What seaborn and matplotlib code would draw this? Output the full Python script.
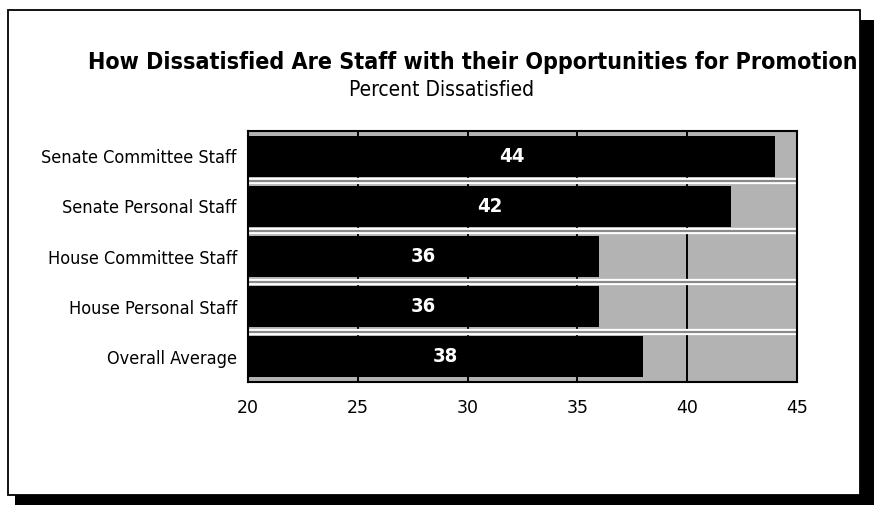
import matplotlib
matplotlib.use("Agg")
import matplotlib.pyplot as plt
from matplotlib.patches import Rectangle
import seaborn as sns
import pandas as pd

categories = ["Senate Committee Staff", "Senate Personal Staff", "House Committee Staff",
              "House Personal Staff", "Overall Average"]
values = [44, 42, 36, 36, 38]
xticks = [20, 25, 30, 35, 40, 45]
title = "How Dissatisfied Are Staff with their Opportunities for Promotion"
subtitle = "Percent Dissatisfied"

sns.set_theme(style="white")
plt.rcParams["font.family"] = ["DejaVu Sans"]
plt.rcParams["font.stretch"] = "condensed"
plt.rcParams["text.color"] = "black"

W, H = 874, 505
fig = plt.figure(figsize=(W / 100, H / 100), dpi=100)
fig.patch.set_facecolor("white")

def fx(px):
    return px / W

def fy(py):
    return 1 - py / H

# shadow and frame
fig.patches.append(Rectangle((fx(860), fy(505)), fx(14), 485 / H, transform=fig.transFigure,
                             facecolor="black", edgecolor="none", zorder=-10))
fig.patches.append(Rectangle((fx(15), fy(505)), fx(859), 10 / H, transform=fig.transFigure,
                             facecolor="black", edgecolor="none", zorder=-10))
fig.patches.append(Rectangle((fx(8), fy(495)), fx(852), 485 / H, transform=fig.transFigure,
                             facecolor="white", edgecolor="black", linewidth=1.3, zorder=-9))

ax = fig.add_axes([fx(248), fy(382), fx(797 - 248), (382 - 131) / H])
ax.set_zorder(1)
df = pd.DataFrame({"category": categories, "value": values})
sns.barplot(data=df, x="value", y="category", orient="h", color="black",
            saturation=1, width=0.82, ax=ax, zorder=3, edgecolor="none", linewidth=0)
ax.set_facecolor("#b3b3b3")
ax.set_xlim(20, 45)
ax.set_ylim(len(categories) - 0.5, -0.5)
ax.set_xticks(xticks)
ax.set_xticklabels([str(t) for t in xticks], fontsize=12.5, fontstretch="normal")
ax.tick_params(axis="x", length=0, pad=12, colors="black")
ax.tick_params(axis="y", length=0, pad=8, colors="black", labelsize=13)
ax.set_xlabel("")
ax.set_ylabel("")
for t in xticks[1:-1]:
    ax.axvline(t, color="black", lw=1.4, zorder=1)
for i in range(len(categories) - 1):
    ax.axhline(i + 0.5, color="white", lw=4.5, zorder=2)
    ax.axhline(i + 0.5, color="#8a8a8a", lw=1.6, zorder=2.5)
for s in ax.spines.values():
    s.set_color("black")
    s.set_linewidth(1.5)
    s.set_visible(True)

for i, v in enumerate(values):
    ax.text((20 + v) / 2, i, str(v), color="white", fontweight="bold", fontsize=14.5,
            ha="center", va="center", zorder=5)

fig.text(fx(473), fy(62), title, ha="center", va="center", fontsize=16.7, fontweight="bold")
fig.text(fx(442), fy(90), subtitle, ha="center", va="center", fontsize=15)

fig.savefig("out.png", dpi=100)
